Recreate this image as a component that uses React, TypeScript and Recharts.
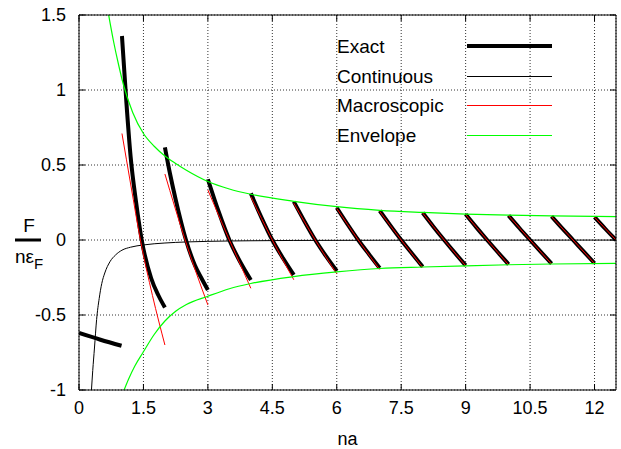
import { CartesianGrid, Label, Line, LineChart, XAxis, YAxis } from 'recharts';

type Pt = [number, number];

const xTicks = [0, 1.5, 3, 4.5, 6, 7.5, 9, 10.5, 12];
const yTicks = [-1, -0.5, 0, 0.5, 1, 1.5];

// exact force, one piece per interval of na
const exactSegments: Pt[][] = [
  [[0, -0.62], [0.5, -0.665], [0.99, -0.705]],
  [[1.0, 1.36], [1.1, 0.93], [1.2, 0.56], [1.33, 0.25], [1.46, 0], [1.68, -0.255], [1.85, -0.37], [2.0, -0.45]],
  [[2.0, 0.618], [2.12, 0.44], [2.25, 0.27], [2.49, 0], [2.7, -0.17], [2.87, -0.265], [3.0, -0.333]],
  [[3.0, 0.405], [3.25, 0.19], [3.5, 0], [3.75, -0.145], [4.0, -0.267]],
  [[4.0, 0.311], [4.25, 0.148], [4.5, 0], [4.75, -0.122], [5.0, -0.233]],
  [[5.0, 0.256], [5.25, 0.124], [5.5, 0], [5.75, -0.108], [6.0, -0.207]],
  [[6.0, 0.215], [6.25, 0.105], [6.5, 0], [6.75, -0.095], [7.0, -0.187]],
  [[7.0, 0.195], [7.25, 0.096], [7.5, 0], [7.75, -0.09], [8.0, -0.178]],
  [[8.0, 0.182], [8.25, 0.089], [8.5, 0], [8.75, -0.086], [9.0, -0.169]],
  [[9.0, 0.171], [9.25, 0.084], [9.5, 0], [9.75, -0.082], [10.0, -0.162]],
  [[10.0, 0.163], [10.25, 0.08], [10.5, 0], [10.75, -0.079], [11.0, -0.157]],
  [[11.0, 0.157], [11.25, 0.077], [11.5, 0], [11.75, -0.078], [12.0, -0.155]],
  [[12.0, 0.153], [12.25, 0.075], [12.5, 0]],
];

const macroSegments: Pt[][] = [
  [[1.0, 0.71], [1.21, 0.36], [1.43, 0], [1.71, -0.37], [2.0, -0.7]],
  [[2.0, 0.44], [2.23, 0.22], [2.47, 0], [2.73, -0.22], [3.0, -0.433]],
  [[3.0, 0.333], [3.25, 0.165], [3.5, 0], [3.75, -0.16], [4.0, -0.322]],
  [[4.0, 0.289], [4.5, 0], [5.0, -0.265]],
  [[5.0, 0.245], [5.5, 0], [6.0, -0.225]],
  [[6.0, 0.21], [6.5, 0], [7.0, -0.197]],
  [[7.0, 0.19], [7.5, 0], [8.0, -0.183]],
  [[8.0, 0.18], [8.5, 0], [9.0, -0.172]],
  [[9.0, 0.17], [9.5, 0], [10.0, -0.165]],
  [[10.0, 0.162], [10.5, 0], [11.0, -0.16]],
  [[11.0, 0.156], [11.5, 0], [12.0, -0.157]],
  [[12.0, 0.152], [12.5, 0]],
];

const continuous: Pt[] = [
  [0.29, -1.0], [0.32, -0.87], [0.36, -0.72], [0.41, -0.53], [0.47, -0.39], [0.53, -0.29],
  [0.6, -0.22], [0.72, -0.145], [0.85, -0.1], [1.0, -0.068], [1.2, -0.048], [1.5, -0.033],
  [2.0, -0.02], [2.5, -0.013], [3.0, -0.009], [4.0, -0.005], [5.0, -0.003], [6.5, -0.002],
  [8.5, -0.001], [12.5, -0.0005],
];

const envelopeUpper: Pt[] = [
  [0.69, 1.5], [0.8, 1.33], [0.92, 1.17], [1.03, 1.04], [1.25, 0.85], [1.5, 0.71], [1.75, 0.625],
  [2.0, 0.56], [2.25, 0.51], [2.5, 0.465], [3.0, 0.39], [3.5, 0.34], [4.0, 0.305], [5.0, 0.258],
  [6.0, 0.222], [7.0, 0.198], [8.0, 0.184], [9.0, 0.173], [10.0, 0.166], [11.0, 0.161], [12.5, 0.156],
];

const envelopeLower: Pt[] = [
  [1.05, -1.0], [1.15, -0.93], [1.3, -0.84], [1.5, -0.745], [1.75, -0.63], [2.0, -0.54],
  [2.25, -0.475], [2.5, -0.43], [3.0, -0.375], [3.5, -0.325], [4.0, -0.29], [5.0, -0.244],
  [6.0, -0.213], [7.0, -0.19], [8.0, -0.18], [9.0, -0.172], [10.0, -0.165], [11.0, -0.16], [12.5, -0.156],
];

const legendItems = [
  { name: 'Exact', color: '#000000', width: 4 },
  { name: 'Continuous', color: '#000000', width: 1 },
  { name: 'Macroscopic', color: '#ff0000', width: 1 },
  { name: 'Envelope', color: '#00ff00', width: 1 },
];

const font = "'Liberation Sans', Arial, Helvetica, sans-serif";

function rows(pts: Pt[]) {
  return pts.map(([x, y]) => ({ x, y }));
}

function YLabel() {
  return (
    <g fontFamily={font} fill="#000">
      <text x={29} y={232} fontSize={19} textAnchor="middle">F</text>
      <line x1={15} x2={41} y1={240} y2={240} stroke="#000" strokeWidth={3} />
      <text x={15} y={263} fontSize={19}>
        nε<tspan fontSize={15} dy={6}>F</tspan>
      </text>
    </g>
  );
}

export default function App() {
  const tickStyle = { fontSize: 18, fill: '#000', fontFamily: font };
  return (
    <div style={{ position: 'absolute', left: 0, top: 0, width: 621, height: 449, fontFamily: font, background: '#fff' }}>
      <LineChart width={621} height={449} margin={{ top: 14, right: 4, bottom: 0, left: 0 }}>
        <CartesianGrid stroke="#333" strokeWidth={1} strokeDasharray="1 2" />
        <XAxis
          dataKey="x"
          type="number"
          domain={[0, 12.5]}
          ticks={xTicks}
          allowDataOverflow
          height={59}
          tickSize={-6}
          tickMargin={17}
          tick={tickStyle}
          tickLine={{ stroke: '#000' }}
          stroke="#000"
        >
          <Label value="na" position="insideBottom" offset={4} style={{ fontSize: 18, fill: '#000', fontFamily: font }} />
        </XAxis>
        <XAxis
          xAxisId="top"
          orientation="top"
          dataKey="x"
          type="number"
          domain={[0, 12.5]}
          ticks={xTicks}
          allowDataOverflow
          height={1}
          tickSize={-6}
          tickFormatter={() => ''}
          tickLine={{ stroke: '#000' }}
          stroke="#000"
        />
        <YAxis
          type="number"
          domain={[-1, 1.5]}
          ticks={yTicks}
          allowDataOverflow
          width={79}
          tickSize={-6}
          tickMargin={19}
          tick={tickStyle}
          tickLine={{ stroke: '#000' }}
          stroke="#000"
        >
          <Label content={() => <YLabel />} />
        </YAxis>
        <YAxis
          yAxisId="right"
          orientation="right"
          type="number"
          domain={[-1, 1.5]}
          ticks={yTicks}
          allowDataOverflow
          width={1}
          tickSize={-6}
          tickFormatter={() => ''}
          tickLine={{ stroke: '#000' }}
          stroke="#000"
        />
        {exactSegments.map((seg, i) => (
          <Line
            key={'exact' + i}
            name="Exact"
            data={rows(seg)}
            dataKey="y"
            type="monotone"
            stroke="#000"
            strokeWidth={4}
            dot={false}
            activeDot={false}
            isAnimationActive={false}
          />
        ))}
        <Line
          name="Continuous"
          data={rows(continuous)}
          dataKey="y"
          type="monotone"
          stroke="#000"
          strokeWidth={1}
          dot={false}
          activeDot={false}
          isAnimationActive={false}
        />
        {macroSegments.map((seg, i) => (
          <Line
            key={'macro' + i}
            name="Macroscopic"
            data={rows(seg)}
            dataKey="y"
            type="monotone"
            stroke="#ff0000"
            strokeWidth={1}
            dot={false}
            activeDot={false}
            isAnimationActive={false}
          />
        ))}
        {[envelopeUpper, envelopeLower].map((env, i) => (
          <Line
            key={'env' + i}
            name="Envelope"
            data={rows(env)}
            dataKey="y"
            type="monotone"
            stroke="#00ff00"
            strokeWidth={1.2}
            dot={false}
            activeDot={false}
            isAnimationActive={false}
          />
        ))}
      </LineChart>
      <svg width={621} height={449} style={{ position: 'absolute', left: 0, top: 0, pointerEvents: 'none' }}>
        {legendItems.map((item, i) => {
          const cy = 46 + Math.round(i * 29.7);
          return (
            <g key={item.name}>
              <text x={337} y={cy + 7} fontSize={19} fontFamily={font} fill="#000">
                {item.name}
              </text>
              <rect x={467} y={cy - Math.floor(item.width / 2)} width={85} height={Math.max(1, item.width)} fill={item.color} />
            </g>
          );
        })}
      </svg>
    </div>
  );
}
